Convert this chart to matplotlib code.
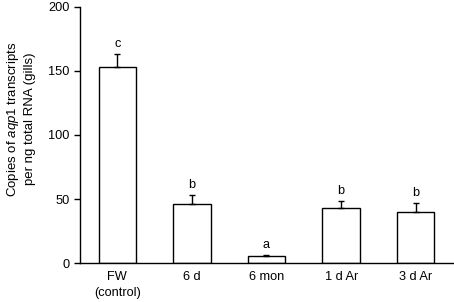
import matplotlib
matplotlib.use("Agg")
import matplotlib.pyplot as plt

groups = ["FW\n(control)", "6 d", "6 mon", "1 d Ar", "3 d Ar"]
means = [153, 46, 5.5, 43, 39.5]
sem = [10.5, 7, 0.6, 5.5, 7.5]
letters = ["c", "b", "a", "b", "b"]

plt.rcParams['font.family'] = ['Liberation Sans', 'DejaVu Sans']
plt.rcParams['mathtext.fontset'] = 'custom'
plt.rcParams['mathtext.rm'] = 'Liberation Sans'
plt.rcParams['mathtext.it'] = 'Liberation Sans:italic'

fig = plt.figure(figsize=(4.54, 3.02), dpi=100)
ax = fig.add_axes([0.176, 0.129, 0.822, 0.848])

x = list(range(len(groups)))
ax.bar(x, means, width=0.5, color='white', edgecolor='black', linewidth=1.0,
       yerr=[[0] * len(sem), sem], capsize=2,
       error_kw=dict(elinewidth=1.0, capthick=1.0, ecolor='black'))

for xi, m, s, l in zip(x, means, sem, letters):
    ax.text(xi, m + s + 3, l, ha='center', va='bottom', fontsize=9.2)

ax.set_xlim(-0.5, 4.5)
ax.set_ylim(0, 200)
ax.set_yticks([0, 50, 100, 150, 200])
ax.set_xticks(x)
ax.set_xticklabels(groups, fontsize=9.2, linespacing=1.35)
ax.tick_params(axis='x', length=0, pad=6)
ax.tick_params(axis='y', labelsize=9.2, length=4, width=1, direction='out')
ax.spines['top'].set_visible(False)
ax.spines['right'].set_visible(False)
ax.spines['left'].set_linewidth(1)
ax.spines['bottom'].set_linewidth(1)
ax.set_ylabel("Copies of $\\it{aqp1}$ transcripts\nper ng total RNA (gills)",
              fontsize=9.5, linespacing=1.3)
ax.yaxis.set_label_coords(-0.118, 0.5625)

fig.savefig("out.png", dpi=100)
